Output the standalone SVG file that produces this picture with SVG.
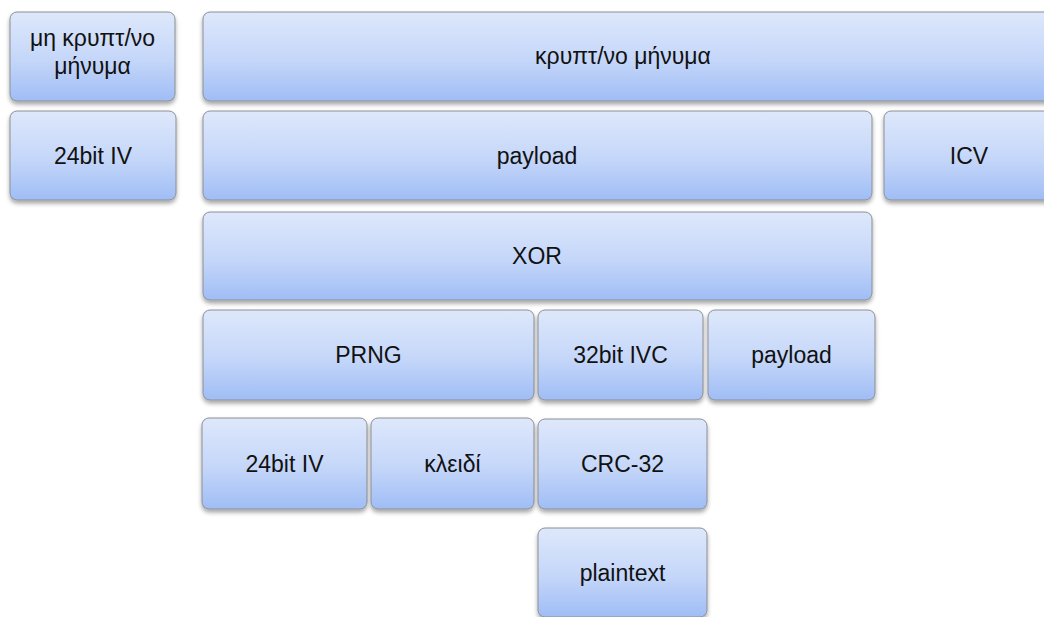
<svg xmlns="http://www.w3.org/2000/svg" width="1044" height="617" viewBox="0 0 1044 617">
<defs>
<linearGradient id="g" x1="0" y1="0" x2="0" y2="1">
<stop offset="0" stop-color="#dee8fb"/>
<stop offset="0.55" stop-color="#c4d6f9"/>
<stop offset="1" stop-color="#9fbdf5"/>
</linearGradient>
<filter id="sh" x="-5%" y="-10%" width="110%" height="130%">
<feDropShadow dx="0" dy="3" stdDeviation="2" flood-color="#000" flood-opacity="0.35"/>
</filter>
</defs>
<style>
.b{fill:url(#g);stroke:#8c8f96;stroke-width:1;filter:url(#sh)}
.t{font-family:"Liberation Sans",Arial,sans-serif;font-size:23px;fill:#111;text-anchor:middle}
</style>
<rect width="1044" height="617" fill="#fff"/>
<g id="n-plain-msg"><rect class="b" x="10" y="12" width="165" height="89" rx="7"/><text class="t" x="92.5" y="46">μη κρυπτ/νο</text><text class="t" x="92.5" y="74">μήνυμα</text></g>
<g id="n-iv-top"><rect class="b" x="10" y="111" width="166" height="89" rx="7"/><text class="t" x="93" y="164">24bit IV</text></g>
<g id="n-cipher"><rect class="b" x="203" y="12" width="860" height="89" rx="7"/><text class="t" x="623" y="64">κρυπτ/νο μήνυμα</text></g>
<g id="n-payload"><rect class="b" x="203" y="111" width="669" height="89" rx="7"/><text class="t" x="537" y="164">payload</text></g>
<g id="n-icv"><rect class="b" x="884" y="111" width="180" height="89" rx="7"/><text class="t" x="969" y="164">ICV</text></g>
<g id="n-xor"><rect class="b" x="203" y="212" width="669" height="88" rx="7"/><text class="t" x="537" y="264">XOR</text></g>
<g id="n-prng"><rect class="b" x="203" y="310" width="331" height="90" rx="7"/><text class="t" x="368.5" y="363">PRNG</text></g>
<g id="n-ivc"><rect class="b" x="538" y="310" width="165" height="90" rx="7"/><text class="t" x="620.5" y="363">32bit IVC</text></g>
<g id="n-payload2"><rect class="b" x="708" y="310" width="167" height="90" rx="7"/><text class="t" x="791.5" y="363">payload</text></g>
<g id="n-iv"><rect class="b" x="202" y="418" width="165" height="91" rx="7"/><text class="t" x="284.5" y="472">24bit IV</text></g>
<g id="n-key"><rect class="b" x="371" y="418" width="163" height="91" rx="7"/><text class="t" x="452.5" y="472">κλειδί</text></g>
<g id="n-crc"><rect class="b" x="538" y="419" width="169" height="90" rx="7"/><text class="t" x="622.5" y="472">CRC-32</text></g>
<g id="n-plaintext"><rect class="b" x="538" y="528" width="169" height="89" rx="7"/><text class="t" x="622.5" y="581">plaintext</text></g>
<g id="connectors"/>
</svg>
